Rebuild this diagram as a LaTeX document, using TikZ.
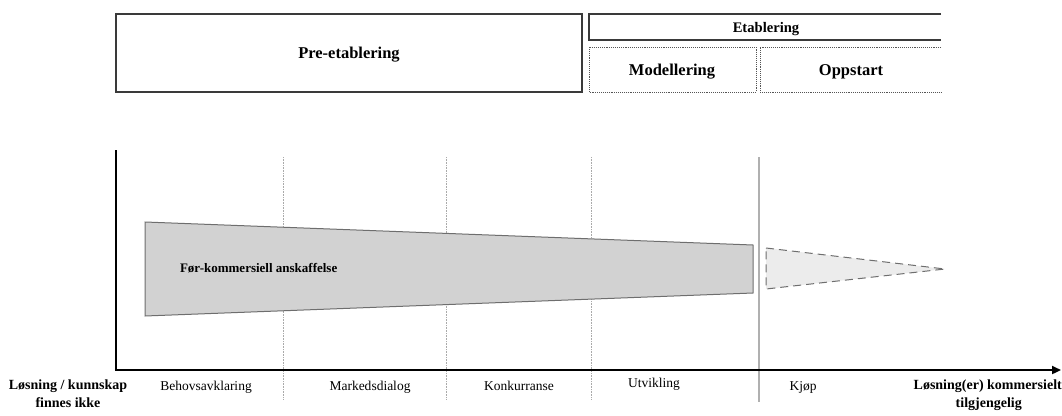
\documentclass[tikz,border=0pt]{standalone}
\usepackage{fontspec}
\setmainfont{Liberation Serif}
\usetikzlibrary{arrows.meta}
\definecolor{boxline}{HTML}{3A3A3A}
\definecolor{dotline}{HTML}{555555}
\definecolor{sepline}{HTML}{AAAAAA}
\definecolor{bigsepline}{HTML}{B0B0B0}
\definecolor{trapfill}{HTML}{D2D2D2}
\definecolor{trapline}{HTML}{6E6E6E}
\definecolor{trifill}{HTML}{ECECEC}
\tikzset{
  phasebox/.style={draw=boxline, line width=1.1pt},
  subbox/.style={draw=dotline, line width=0.9pt, densely dotted},
  sep/.style={draw=sepline, line width=0.6pt, densely dotted},
  bigsep/.style={draw=bigsepline, line width=2.2pt},
  axisline/.style={draw=black, line width=2.2pt},
  steplabel/.style={font=\fontsize{13.5}{15}\selectfont, anchor=base},
  endlabel/.style={font=\bfseries\fontsize{14}{18}\selectfont, align=center},
  headlabel/.style={font=\bfseries\fontsize{16.5}{19}\selectfont, anchor=base},
}
\begin{document}
\begin{tikzpicture}[x=1pt,y=-1pt]
\useasboundingbox (0,0) rectangle (1062,415);
% top boxes
\draw[phasebox] (116,14) rectangle (582,92);
\node[headlabel] (pre) at (349,58) {Pre-etablering};
\draw[phasebox] (941,14) -- (589,14) -- (589,40) -- (941,40);
\node[font=\bfseries\fontsize{14.6}{16}\selectfont, anchor=base] (etab) at (766,32) {Etablering};
\draw[subbox] (589,47) rectangle (756,92);
\node[headlabel] (mod) at (672,75) {Modellering};
\draw[subbox] (941,47) -- (760,47) -- (760,92) -- (941,92);
\node[headlabel] (opp) at (851,75) {Oppstart};
% separators
\draw[sep] (283,157) -- (283,400);
\draw[sep] (446,157) -- (446,400);
\draw[sep] (591,157) -- (591,400);
% shapes
\draw[draw=trapline, fill=trapfill, line width=1pt] (145,222) -- (753,245) -- (753,293) -- (145,316) -- cycle;
\node[font=\bfseries\fontsize{13}{15}\selectfont, anchor=base west] (fka) at (176.5,272) {Før-kommersiell anskaffelse};
\draw[draw=trapline, fill=trifill, line width=1pt, dash pattern=on 8pt off 5pt] (766,248) -- (945,269) -- (766,289) -- cycle;
\draw[bigsep] (759,157) -- (759,402);
% axes
\coordinate (origin) at (116,370);
\coordinate (ytop) at (116,150);
\coordinate (xend) at (1061,370);
\draw[axisline] (ytop) -- (origin);
\draw[axisline, -{Triangle[length=9pt,width=8pt]}] ([xshift=-1.1pt]origin) -- (xend);
% step labels
\node[steplabel] (s1) at (206,390) {Behovsavklaring};
\node[steplabel] (s2) at (370,390) {Markedsdialog};
\node[steplabel] (s3) at (519,390) {Konkurranse};
\node[steplabel] (s4) at (654,387) {Utvikling};
\node[steplabel] (s5) at (803,390) {Kjøp};
\node[endlabel, anchor=north] (start) at (68,376) {Løsning / kunnskap\\finnes ikke};
\node[endlabel, anchor=north east, inner sep=0pt, align=right] (end) at (1062,380) {Løsning(er) kommersielt\\tilgjengelig\hspace*{40pt}};
\end{tikzpicture}
\end{document}
